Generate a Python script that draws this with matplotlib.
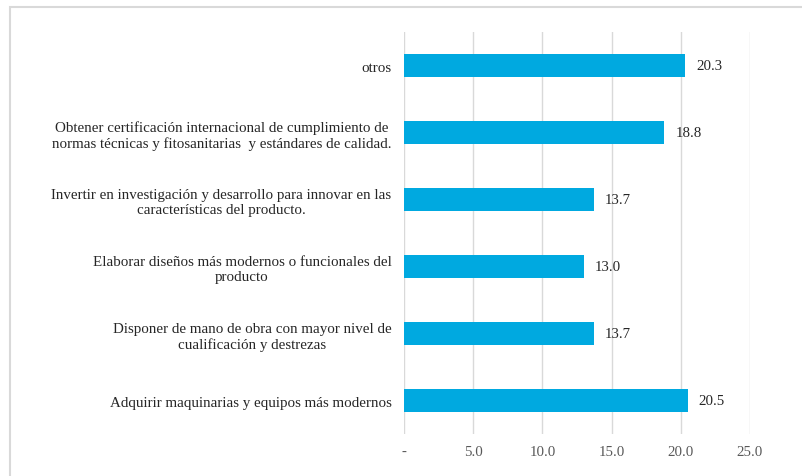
import matplotlib.pyplot as plt
from matplotlib.patches import Rectangle

categories = [
    "Adquirir maquinarias y equipos más modernos",
    "Disponer de mano de obra con mayor nivel de\ncualificación y destrezas",
    "Elaborar diseños más modernos o funcionales del\nproducto",
    "Invertir en investigación y desarrollo para innovar en las\ncaracterísticas del producto.",
    "Obtener certificación internacional de cumplimiento de\nnormas técnicas y fitosanitarias  y estándares de calidad.",
    "otros",
]
values = [20.5, 13.7, 13.0, 13.7, 18.8, 20.3]
xticks = [0, 5, 10, 15, 20, 25]
xtick_labels = ["-", "5.0", "10.0", "15.0", "20.0", "25.0"]

plt.rcParams['font.family'] = ['Liberation Serif', 'DejaVu Serif']

fig = plt.figure(figsize=(8.03, 4.77), dpi=100)
ax = fig.add_axes([404 / 803, 1 - 435 / 477, (750 - 404) / 803, (435 - 33) / 477])

# outer frame of the chart area (cut off at right and bottom)
fig.patches.append(Rectangle((10 / 803, -0.1), 1.2, 1 - 8 / 477 + 0.1,
                             transform=fig.transFigure, fill=False,
                             edgecolor='#d9d9d9', linewidth=1.5))

y = range(len(categories))
ax.barh(y, values, height=0.33, color='#00a9e0', zorder=3)
for i, v in enumerate(values):
    ax.text(v + 0.8, i, f"{v:.1f}", va='center', ha='left',
            fontsize=10.7, color='#262626')

ax.set_xlim(0, 25)
ax.set_ylim(-0.5, len(categories) - 0.5)
ax.set_xticks(xticks)
ax.set_xticklabels(xtick_labels, fontsize=10.7, color='#595959')
ax.set_yticks(list(y))
ax.set_yticklabels(categories, fontsize=10.8, color='#262626',
                   multialignment='center')
ax.tick_params(axis='y', length=0, pad=9)
ax.tick_params(axis='x', length=0, pad=8)
ax.grid(axis='x', color='#d9d9d9', linewidth=1, zorder=0)
for s in ax.spines.values():
    s.set_visible(False)

fig.savefig("out.png", dpi=100)
